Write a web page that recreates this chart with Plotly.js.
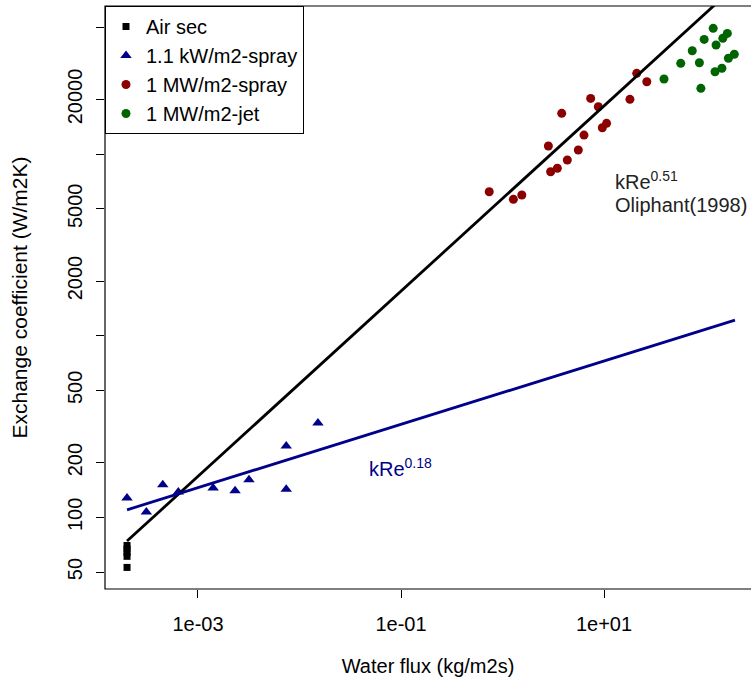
<!DOCTYPE html>
<html><head><meta charset="utf-8">
<script src="https://cdn.plot.ly/plotly-3.0.1.min.js"></script>
<style>html,body{margin:0;padding:0;background:#fff;overflow:hidden}</style>
</head><body><div id="chart" style="width:751px;height:687px"></div>
<script>
// ---- data ----
const seriesNames = ["Air sec", "1.1 kW/m2-spray", "1 MW/m2-spray", "1 MW/m2-jet"];

const airX = [2e-4, 2e-4, 2e-4, 2e-4, 2e-4];
const airY = [53, 61, 64, 67, 70];

const kwSprayX = [2.0e-4, 3.1e-4, 4.5e-4, 6.4e-4, 1.41e-3, 2.32e-3, 3.18e-3, 7.4e-3, 7.4e-3, 1.52e-2];
const kwSprayY = [128, 107, 151, 138, 145, 140, 161, 247, 143, 331];

const mwSprayX = [0.74, 1.28, 1.55, 2.83, 2.98, 3.47, 3.83, 4.35, 5.58, 6.35, 7.39, 8.79, 9.62, 10.6, 18.0, 21.0, 26.4];
const mwSprayY = [6210, 5640, 5960, 11090, 8000, 8360, 16790, 9290, 10540, 12740, 20290, 18250, 13990, 14790, 20050, 27860, 25060];

const mwJetX = [39, 57, 74, 87, 90, 97, 119, 127, 124, 148, 164, 145, 168, 192];
const mwJetY = [25940, 31640, 37130, 31880, 23050, 42870, 49320, 39900, 28440, 43450, 46260, 29720, 33730, 35480];

// fitted power laws (end points)
const fitOliphantX = [2e-4, 200];
const fitOliphantY = [74, 85000];
const fitLowX = [2e-4, 195];
const fitLowY = [110, 1220];

const xTickVals = [1e-3, 1e-1, 1e1];
const xTickText = ["1e-03", "1e-01", "1e+01"];
const yTickVals = [50, 100, 200, 500, 2000, 5000, 20000];
const yTickText = ["50", "100", "200", "500", "2000", "5000", "20000"];
const yUnlabelledTicks = [1000, 10000, 50000];

const FONT = "Liberation Sans, Arial, Helvetica, sans-serif";
const FS = 20;

const traces = [
  {x: airX, y: airY, name: seriesNames[0], type: "scatter", mode: "markers",
   marker: {symbol: "square", size: 7, color: "#000000"}},
  {x: kwSprayX, y: kwSprayY, name: seriesNames[1], type: "scatter", mode: "markers",
   marker: {symbol: "triangle-up", size: 10, color: "#00008B"}},
  {x: mwSprayX, y: mwSprayY, name: seriesNames[2], type: "scatter", mode: "markers",
   marker: {symbol: "circle", size: 9, color: "#8B0000"}},
  {x: mwJetX, y: mwJetY, name: seriesNames[3], type: "scatter", mode: "markers",
   marker: {symbol: "circle", size: 9, color: "#006400"}},
  {x: fitOliphantX, y: fitOliphantY, type: "scatter", mode: "lines", showlegend: false,
   line: {color: "#000000", width: 2.8}, hoverinfo: "skip"},
  {x: fitLowX, y: fitLowY, type: "scatter", mode: "lines", showlegend: false,
   line: {color: "#00008B", width: 2.8}, hoverinfo: "skip"}
];

const layout = {
  width: 751, height: 687,
  margin: {l: 105, r: 0, t: 6, b: 98},
  paper_bgcolor: "#ffffff", plot_bgcolor: "#ffffff",
  font: {family: FONT, size: FS, color: "#000000"},
  showlegend: true,
  legend: {x: 0, y: 1, xanchor: "left", yanchor: "top",
           bgcolor: "#ffffff", bordercolor: "#000000", borderwidth: 1,
           font: {family: FONT, size: FS, color: "#000000"}},
  xaxis: {type: "log", range: [-3.916, 2.448], showgrid: false, zeroline: false,
          tickmode: "array", tickvals: xTickVals, ticktext: xTickText,
          ticks: "outside", ticklen: 8, tickwidth: 1, tickcolor: "#000000",
          ticklabelstandoff: 9,
          showline: false,
          title: {text: "Water flux (kg/m2s)", font: {family: FONT, size: FS}, standoff: 24}},
  yaxis: {type: "log", range: [1.6054, 4.816], showgrid: false, zeroline: false,
          tickmode: "array", tickvals: yTickVals, ticktext: yTickText, tickangle: -90,
          ticks: "outside", ticklen: 8, tickwidth: 1, tickcolor: "#000000",
          ticklabelstandoff: 6,
          minor: {tickmode: "array", tickvals: yUnlabelledTicks, ticks: "outside",
                  ticklen: 8, tickwidth: 1, tickcolor: "#000000", showgrid: false},
          showline: false,
          title: {text: "Exchange coefficient (W/m2K)", font: {family: FONT, size: 21}, standoff: 30}},
  shapes: [
    {type: "rect", xref: "paper", yref: "paper", x0: 0, x1: 1.05, y0: 0, y1: 1,
     line: {color: "#000000", width: 1.2}, fillcolor: "rgba(0,0,0,0)", layer: "above"}
  ],
  annotations: [
    {xref: "paper", yref: "paper", x: 0.4056, y: 0.209, xanchor: "left", yanchor: "middle",
     text: "kRe<sup>0.18</sup>", showarrow: false, font: {family: FONT, size: FS, color: "#00008B"}},
    {xref: "paper", yref: "paper", x: 0.786, y: 0.70, xanchor: "left", yanchor: "middle",
     text: "kRe<sup>0.51</sup>", showarrow: false, font: {family: FONT, size: FS, color: "#222222"}},
    {xref: "paper", yref: "paper", x: 0.786, y: 0.6587, xanchor: "left", yanchor: "middle",
     text: "Oliphant(1998)", showarrow: false, font: {family: FONT, size: FS, color: "#222222"}}
  ]
};

Plotly.newPlot("chart", traces, layout, {displayModeBar: false, staticPlot: true});
</script></body></html>
